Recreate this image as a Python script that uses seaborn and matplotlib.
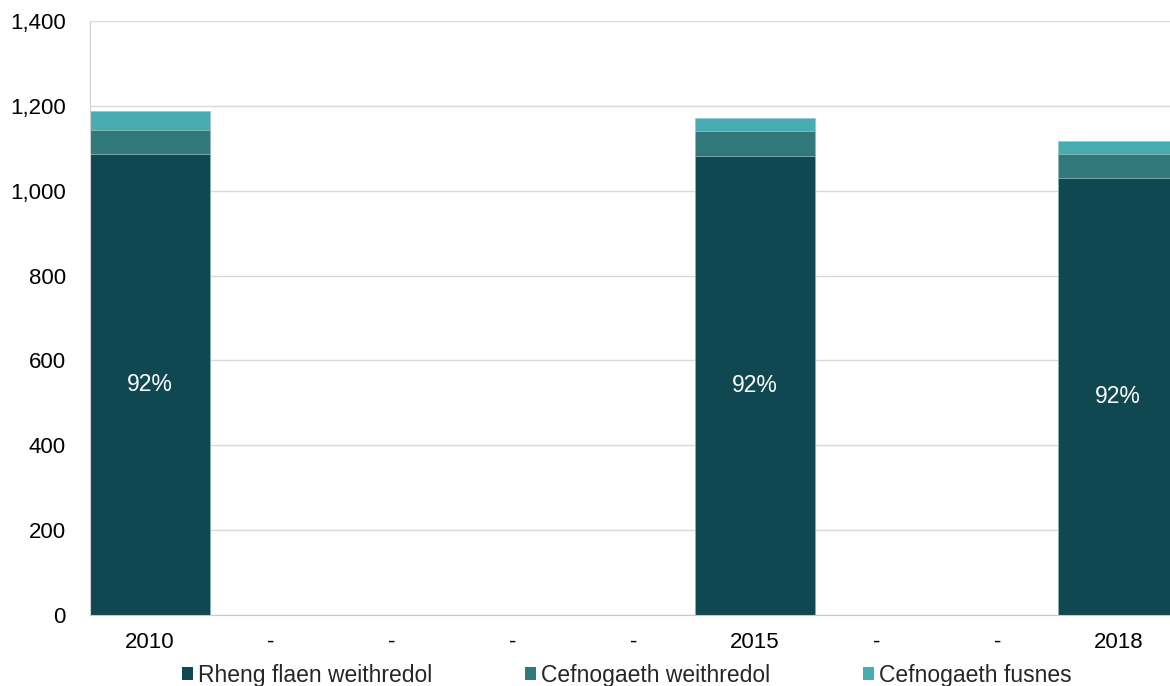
import numpy as np
import pandas as pd
import matplotlib.pyplot as plt
import seaborn as sns
from matplotlib.ticker import FuncFormatter
from matplotlib.patches import Patch

# data
tick_labels = ["2010", "-", "-", "-", "-", "2015", "-", "-", "2018"]
rheng_flaen = [1086, np.nan, np.nan, np.nan, np.nan, 1082, np.nan, np.nan, 1030]
cefn_weithredol = [57, np.nan, np.nan, np.nan, np.nan, 59, np.nan, np.nan, 56]
cefn_fusnes = [45, np.nan, np.nan, np.nan, np.nan, 30, np.nan, np.nan, 31]
pct_labels = ["92%", "", "", "", "", "92%", "", "", "92%"]

series_names = ["Rheng flaen weithredol", "Cefnogaeth weithredol", "Cefnogaeth fusnes"]
colors = ["#104852", "#31787A", "#48ADB3"]

sns.set_style("white")
plt.rcParams["font.family"] = ["Liberation Sans", "DejaVu Sans"]

df = pd.DataFrame({
    "pos": range(len(tick_labels)),
    "s1": rheng_flaen,
    "s2": cefn_weithredol,
    "s3": cefn_fusnes,
})
df["c1"] = df["s1"]
df["c2"] = df["s1"] + df["s2"]
df["c3"] = df["c2"] + df["s3"]

fig = plt.figure(figsize=(11.7, 6.86), dpi=100)
ax = fig.add_axes([0.0765, 0.1035, 0.931, 0.866])

# stacked bars: draw cumulative totals from the top down
for col, color in zip(["c3", "c2", "c1"], colors[::-1]):
    sns.barplot(data=df, x="pos", y=col, order=list(range(len(tick_labels))),
                color=color, width=0.99, edgecolor="#9fc3c6", linewidth=0.5,
                errorbar=None, ax=ax, saturation=1)

for i, (v, lab) in enumerate(zip(rheng_flaen, pct_labels)):
    if lab:
        ax.text(i, v / 2, lab, ha="center", va="center", color="white", fontsize=16.5)

ax.set_ylim(0, 1400)
ax.set_xlim(-0.5, len(tick_labels) - 0.5)
ax.set_yticks(range(0, 1401, 200))
ax.yaxis.set_major_formatter(FuncFormatter(lambda v, p: f"{int(v):,}"))
ax.set_xticks(range(len(tick_labels)))
ax.set_xticklabels(tick_labels)
ax.tick_params(axis="both", length=0, labelsize=16, colors="black")
ax.tick_params(axis="x", pad=12)
ax.tick_params(axis="y", pad=17)
ax.set_xlabel("")
ax.set_ylabel("")
ax.grid(True, axis="y", color="#d9d9d9", linewidth=1)
ax.set_axisbelow(True)
for side in ["top", "right"]:
    ax.spines[side].set_visible(False)
ax.spines["left"].set_color("#d0d0d0")
ax.spines["bottom"].set_color("#c8c8c8")

handles = [Patch(facecolor=c, edgecolor="none") for c in colors]
fig.legend(handles, series_names, loc="center", bbox_to_anchor=(0.5355, 0.016),
           ncol=3, frameon=False, fontsize=16.5, handlelength=0.5, handleheight=0.5,
           handletextpad=0.2, columnspacing=4.05, borderaxespad=0)

plt.savefig("out.png", dpi=100)
